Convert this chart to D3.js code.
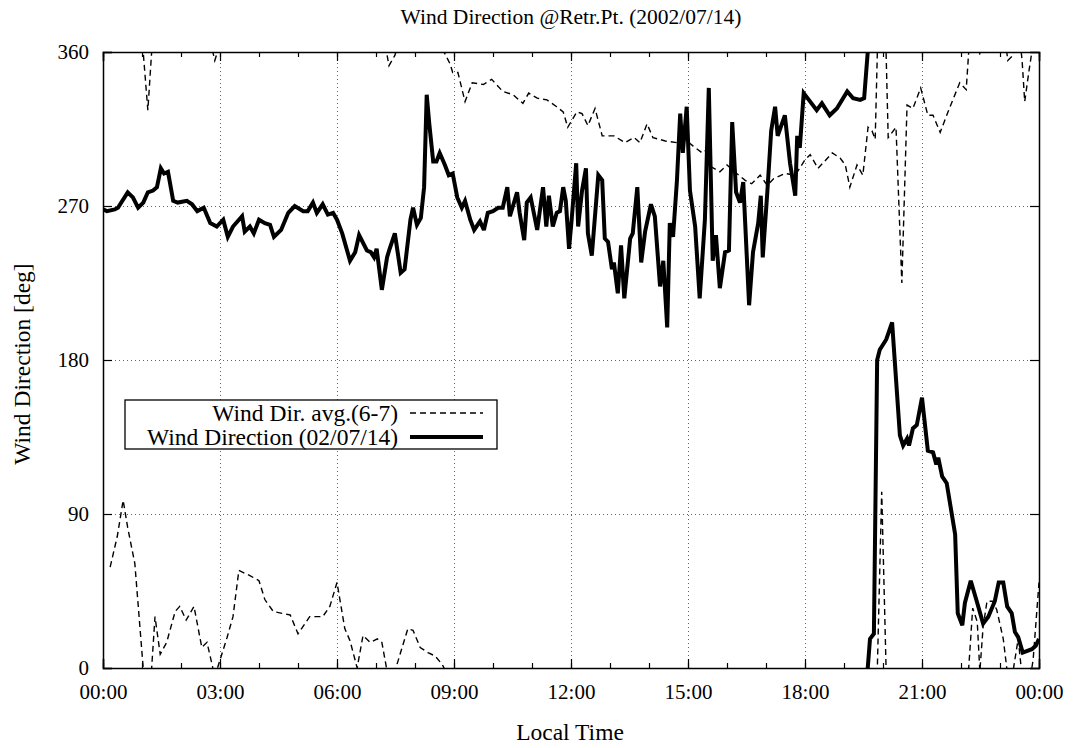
<!DOCTYPE html>
<html>
<head>
<meta charset="utf-8">
<script src="https://cdn.jsdelivr.net/npm/d3@7/dist/d3.min.js"></script>
<style>
  body { margin: 0; background: #fff; }
  svg text { font-family: "Liberation Serif", "DejaVu Serif", serif; fill: #000; }
</style>
</head>
<body>
<div id="chart"></div>
<script>
// chart size and plot box
const width = 1075;
const height = 748;
const margin = {left: 103, right: 36, top: 52, bottom: 80};

// time of day in minutes, wind direction in degrees (0-360)
const dirTime = [0, 6, 18, 23, 38, 46, 54, 62, 69, 77, 83, 89, 94, 100, 108, 115, 129, 137, 145, 155,
  165, 175, 185, 192, 200, 214, 218, 226, 232, 240, 249, 257, 263, 274, 285, 295, 308, 315, 323, 329,
  338, 346, 354, 360, 368, 380, 388, 394, 406, 412, 417, 421, 429, 437, 441, 449, 458, 464, 473, 477,
  483, 489, 494, 498, 502, 508, 513, 518, 526, 532, 538, 545, 552, 557, 565, 571, 580, 586, 592, 600,
  608, 615, 622, 626, 637, 641, 648, 652, 658, 668, 677, 682, 686, 692, 698, 703, 708, 712, 717, 721,
  728, 731, 737, 743, 746, 752, 762, 768, 772, 777, 783, 786, 792, 797, 802, 811, 815, 822, 828, 834,
  843, 849, 857, 862, 868, 872, 877, 883, 888, 892, 898, 903, 911, 918, 926, 932, 938, 943, 949, 957,
  963, 968, 974, 980, 985, 994, 1000, 1008, 1012, 1015, 1022, 1028, 1034, 1038, 1049, 1057, 1065, 1068, 1072, 1078,
  1088, 1098, 1106, 1118, 1129, 1145, 1154, 1165, 1171, 1180, 1186, 1191, 1195, 1205, 1214, 1226, 1231, 1237, 1240, 1246,
  1252, 1260, 1269, 1277, 1282, 1285, 1291, 1298, 1308, 1311, 1315, 1322, 1326, 1335, 1345, 1354, 1362, 1372, 1378, 1385,
  1391, 1398, 1403, 1408, 1415, 1422, 1429, 1435, 1440];
const dirValue = [268, 267, 268, 269, 278, 275, 269, 272, 278, 279, 281, 292, 289, 290, 273, 272, 273, 271, 267, 269,
  260, 258, 262, 252, 258, 264, 255, 258, 254, 262, 260, 259, 252, 256, 266, 270, 267, 267, 272, 266,
  271, 265, 266, 262, 254, 238, 243, 253, 244, 243, 240, 245, 221, 240, 245, 254, 231, 233, 262, 269,
  259, 263, 281, 335, 318, 296, 296, 301, 294, 288, 289, 275, 269, 273, 262, 256, 261, 256, 266, 267,
  269, 269, 281, 264, 278, 266, 250, 272, 275, 256, 281, 258, 276, 258, 266, 267, 281, 273, 245, 262,
  295, 258, 279, 292, 254, 241, 288, 285, 251, 249, 233, 237, 219, 247, 216, 251, 254, 281, 237, 255,
  271, 264, 223, 238, 199, 260, 252, 285, 324, 301, 328, 279, 258, 216, 262, 339, 238, 253, 222, 243,
  244, 319, 278, 272, 284, 212, 243, 260, 276, 240, 278, 314, 328, 311, 323, 295, 276, 311, 304, 336,
  331, 326, 330, 323, 327, 337, 333, 332, 333, 17, 20, 180, 186, 192, 202, 136, 130, 134, 130, 140,
  142, 158, 127, 126, 119, 123, 112, 108, 85, 78, 32, 25, 38, 51, 38, 26, 30, 39, 50, 50,
  36, 32, 21, 18, 9, 10, 11, 13, 17];

// June-July average direction
const avgTime = [11, 22, 31, 38, 49, 69, 80, 88, 98, 111, 118, 128, 140, 152, 160, 172, 191, 200, 209, 226,
  240, 249, 262, 288, 300, 318, 338, 349, 360, 372, 380, 391, 400, 411, 422, 429, 440, 449, 469, 477,
  488, 500, 511, 522, 534, 538, 546, 557, 568, 585, 598, 615, 631, 646, 655, 668, 683, 698, 708, 715,
  729, 737, 746, 757, 768, 786, 803, 817, 826, 837, 846, 865, 883, 895, 908, 922, 929, 935, 949, 960,
  975, 988, 998, 1011, 1022, 1032, 1049, 1065, 1080, 1088, 1100, 1122, 1134, 1142, 1149, 1160, 1169, 1177, 1183, 1188,
  1198, 1208, 1220, 1229, 1237, 1246, 1258, 1269, 1277, 1288, 1300, 1318, 1328, 1338, 1345, 1349, 1354, 1360, 1369, 1375,
  1385, 1392, 1400, 1408, 1414, 1418, 1425, 1431, 1440];
const avgValue = [59, 77, 98, 82, 61, 326, 30, 8, 15, 33, 36, 28, 36, 12, 15, 355, 18, 30, 57, 54,
  51, 40, 33, 31, 20, 30, 30, 36, 50, 23, 16, 0, 19, 15, 17, 15, 352, 358, 23, 22,
  12, 9, 7, 2, 353, 348, 348, 331, 342, 341, 344, 337, 335, 330, 336, 333, 332, 328, 325, 316,
  325, 324, 317, 327, 311, 311, 307, 310, 307, 318, 310, 308, 307, 309, 305, 301, 303, 293, 290, 294,
  289, 285, 283, 288, 282, 286, 289, 288, 297, 300, 292, 301, 298, 294, 281, 294, 288, 316, 314, 309,
  103, 310, 316, 225, 329, 327, 339, 323, 323, 313, 325, 342, 338, 35, 27, 358, 24, 39, 39, 34,
  17, 355, 358, 17, 355, 331, 350, 5, 50];

const xTicks = [0, 180, 360, 540, 720, 900, 1080, 1260, 1440];
const xTickLabels = ["00:00", "03:00", "06:00", "09:00", "12:00", "15:00", "18:00", "21:00", "00:00"];
const xMinorTicks = d3.range(0, 1441, 60);
const yTicks = [0, 90, 180, 270, 360];

const svg = d3.select("#chart")
  .append("svg")
  .attr("width", width)
  .attr("height", height);

const x = d3.scaleLinear().domain([0, 1440]).range([margin.left, width - margin.right]);
const y = d3.scaleLinear().domain([0, 360]).range([height - margin.bottom, margin.top]);

const plotW = width - margin.left - margin.right;
const plotH = height - margin.top - margin.bottom;

// dotted grid at the major ticks
svg.append("g")
  .attr("transform", `translate(0,${height - margin.bottom})`)
  .call(d3.axisBottom(x).tickValues(xTicks.slice(1, -1)).tickSize(-plotH).tickFormat(""))
  .call(g => g.select(".domain").remove())
  .selectAll("line").attr("stroke", "#666").attr("stroke-dasharray", "1,3");

svg.append("g")
  .attr("transform", `translate(${margin.left},0)`)
  .call(d3.axisLeft(y).tickValues(yTicks.slice(1, -1)).tickSize(-plotW).tickFormat(""))
  .call(g => g.select(".domain").remove())
  .selectAll("line").attr("stroke", "#666").attr("stroke-dasharray", "1,3");

// clip the lines to the plot box
svg.append("clipPath").attr("id", "plotclip")
  .append("rect")
  .attr("x", margin.left).attr("y", margin.top)
  .attr("width", plotW).attr("height", plotH);

// wind direction wraps at 360: unwrap jumps, then draw copies shifted by 360
function unwrap(times, values) {
  const out = [];
  let prev = null;
  times.forEach((t, i) => {
    let v = values[i];
    if (prev !== null) {
      while (v - prev > 180) v -= 360;
      while (v - prev < -180) v += 360;
    }
    out.push({t: t, v: v});
    prev = v;
  });
  return out;
}

const line = d3.line().x(d => x(d.t)).y(d => y(d.v));
const shifts = [-360, 0, 360];

const avgData = unwrap(avgTime, avgValue);
const dirData = unwrap(dirTime, dirValue);

const lines = svg.append("g").attr("clip-path", "url(#plotclip)");

shifts.forEach(s => {
  lines.append("path")
    .datum(avgData.map(d => ({t: d.t, v: d.v + s})))
    .attr("fill", "none")
    .attr("stroke", "#000")
    .attr("stroke-width", 1.4)
    .attr("stroke-dasharray", "6,4")
    .attr("d", line);
});

shifts.forEach(s => {
  lines.append("path")
    .datum(dirData.map(d => ({t: d.t, v: d.v + s})))
    .attr("fill", "none")
    .attr("stroke", "#000")
    .attr("stroke-width", 4)
    .attr("stroke-linejoin", "miter")
    .attr("stroke-miterlimit", 3)
    .attr("d", line);
});

// axes, ticks pointing inward on all four sides
const bottom = svg.append("g")
  .attr("transform", `translate(0,${height - margin.bottom})`)
  .call(d3.axisBottom(x).tickValues(xTicks).tickSize(-9).tickPadding(16)
    .tickFormat((d, i) => xTickLabels[i]));
bottom.selectAll("text").attr("font-size", "21px");

svg.append("g")
  .attr("transform", `translate(0,${height - margin.bottom})`)
  .call(d3.axisBottom(x).tickValues(xMinorTicks).tickSize(-5).tickFormat(""))
  .call(g => g.select(".domain").remove());

svg.append("g")
  .attr("transform", `translate(0,${margin.top})`)
  .call(d3.axisTop(x).tickValues(xTicks).tickSize(-9).tickFormat(""));

svg.append("g")
  .attr("transform", `translate(0,${margin.top})`)
  .call(d3.axisTop(x).tickValues(xMinorTicks).tickSize(-5).tickFormat(""))
  .call(g => g.select(".domain").remove());

const left = svg.append("g")
  .attr("transform", `translate(${margin.left},0)`)
  .call(d3.axisLeft(y).tickValues(yTicks).tickSize(-9).tickPadding(14));
left.selectAll("text").attr("font-size", "21px");

svg.append("g")
  .attr("transform", `translate(${width - margin.right},0)`)
  .call(d3.axisRight(y).tickValues(yTicks).tickSize(-9).tickFormat(""));

svg.selectAll(".domain").attr("stroke", "#000").attr("stroke-width", 1.5);
svg.selectAll(".tick line").filter(function() { return !this.getAttribute("stroke-dasharray"); })
  .attr("stroke", "#000").attr("stroke-width", 1.2);

// title and axis labels
svg.append("text")
  .attr("x", 571).attr("y", 24)
  .attr("text-anchor", "middle")
  .attr("font-size", "21.5px")
  .text("Wind Direction @Retr.Pt. (2002/07/14)");

svg.append("text")
  .attr("x", 570).attr("y", 740)
  .attr("text-anchor", "middle")
  .attr("font-size", "23.5px")
  .text("Local Time");

svg.append("text")
  .attr("transform", "translate(30,364) rotate(-90)")
  .attr("text-anchor", "middle")
  .attr("font-size", "23.5px")
  .text("Wind Direction [deg]");

// legend
const legendNames = ["Wind Dir. avg.(6-7)", "Wind Direction (02/07/14)"];
const legend = svg.append("g");
legend.append("rect")
  .attr("x", 125).attr("y", 400)
  .attr("width", 372).attr("height", 49)
  .attr("fill", "#fff").attr("stroke", "#000").attr("stroke-width", 1.3);

legendNames.forEach((name, i) => {
  const cy = 413 + i * 24;
  legend.append("text")
    .attr("x", 398).attr("y", cy)
    .attr("dy", "0.35em")
    .attr("text-anchor", "end")
    .attr("font-size", "23.5px")
    .text(name);
  legend.append("line")
    .attr("x1", 410).attr("x2", 483)
    .attr("y1", cy).attr("y2", cy)
    .attr("stroke", "#000")
    .attr("stroke-width", i === 0 ? 1.4 : 4)
    .attr("stroke-dasharray", i === 0 ? "6,4" : null);
});
</script>
</body>
</html>
